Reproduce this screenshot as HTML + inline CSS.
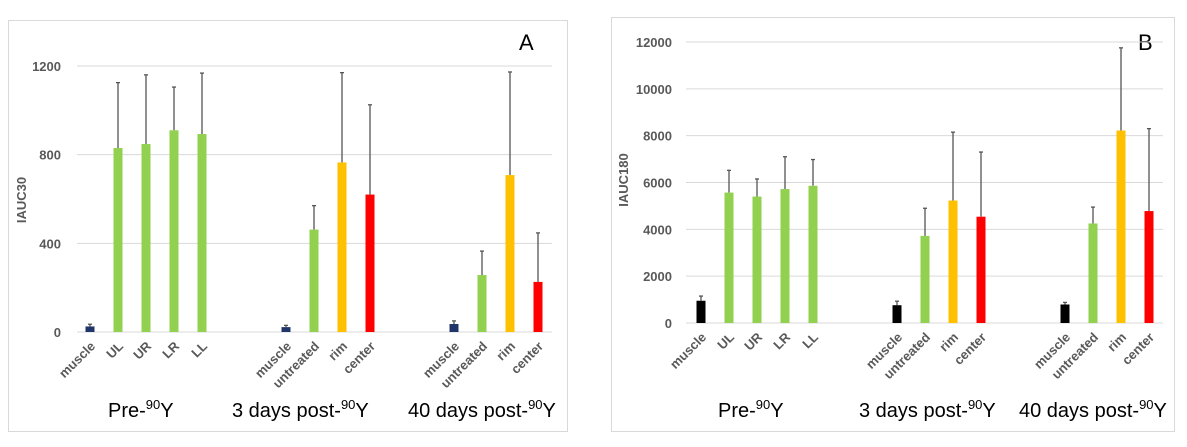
<!DOCTYPE html>
<html><head><meta charset="utf-8"><style>
body{margin:0;background:#fff;}
svg{display:block;font-family:"Liberation Sans",sans-serif;}
.tick{font-size:13px;font-weight:bold;fill:#595959;}
.cat{font-size:13px;font-weight:bold;fill:#595959;}
.grp{font-size:20px;fill:#000;}
</style></head><body>
<svg id="s" width="1187" height="447">
<rect x="0" y="0" width="1187" height="447" fill="#fff"/>
<rect x="8.5" y="20.5" width="559" height="411" fill="#fff" stroke="#d9d9d9"/>
<rect x="611.5" y="17.5" width="563" height="414" fill="#fff" stroke="#d9d9d9"/>
<text x="519" y="50" font-size="22">A</text>
<text x="1138" y="50" font-size="22">B</text>
<text class="tick" transform="translate(26,200) rotate(-90)" text-anchor="middle">IAUC30</text>
<text class="tick" transform="translate(628,180) rotate(-90)" text-anchor="middle">IAUC180</text>
<g id="ga"></g><g id="gb"></g>
<text class="grp" x="108" y="417">Pre-<tspan font-size="13" dy="-8">90</tspan><tspan dy="8">Y</tspan></text>
<text class="grp" x="232" y="417">3 days post-<tspan font-size="13" dy="-8">90</tspan><tspan dy="8">Y</tspan></text>
<text class="grp" x="408" y="417">40 days post-<tspan font-size="13" dy="-8">90</tspan><tspan dy="8">Y</tspan></text>
<text class="grp" x="718" y="417">Pre-<tspan font-size="13" dy="-8">90</tspan><tspan dy="8">Y</tspan></text>
<text class="grp" x="859" y="417">3 days post-<tspan font-size="13" dy="-8">90</tspan><tspan dy="8">Y</tspan></text>
<text class="grp" x="1019" y="417">40 days post-<tspan font-size="13" dy="-8">90</tspan><tspan dy="8">Y</tspan></text>
</svg>
<script>
const categories = ["muscle","UL","UR","LR","LL","muscle","untreated","rim","center","muscle","untreated","rim","center"];
const slots = [0,1,2,3,4,7,8,9,10,13,14,15,16];
const colorsA = ["#1f3468","#92d050","#92d050","#92d050","#92d050","#1f3468","#92d050","#ffc000","#ff0000","#1f3468","#92d050","#ffc000","#ff0000"];
const colorsB = ["#000000","#92d050","#92d050","#92d050","#92d050","#000000","#92d050","#ffc000","#ff0000","#000000","#92d050","#ffc000","#ff0000"];
const valuesA = [25,830,848,910,893,22,462,765,620,36,257,708,226];
const errTopA = [35,1125,1160,1105,1168,30,570,1170,1025,50,365,1173,447];
const ticksA = [0,400,800,1200];
const valuesB = [950,5570,5400,5720,5860,760,3720,5230,4540,790,4250,8220,4780];
const errTopB = [1150,6520,6150,7100,6980,930,4900,8150,7300,880,4950,11750,8300];
const ticksB = [0,2000,4000,6000,8000,10000,12000];

const NS="http://www.w3.org/2000/svg";
function mk(tag,attrs,parent){const e=document.createElementNS(NS,tag);for(const k in attrs)e.setAttribute(k,attrs[k]);parent.appendChild(e);return e;}
function draw(g,cfg){
  const y=v=>cfg.y0-(v/cfg.max)*(cfg.y0-cfg.yTop);
  const x=i=>cfg.x0+slots[i]*cfg.slot;
  cfg.ticks.forEach(t=>{
    const l=mk("line",{x1:cfg.gx1,x2:cfg.gx2,y1:y(t),y2:y(t),stroke:"#d9d9d9","stroke-width":1},g);
    
    
    const tx=mk("text",{x:cfg.tickX,y:y(t)+5,"text-anchor":"end",class:"tick"},g);
    tx.textContent=t;
    
    
  });
  cfg.values.forEach((v,i)=>{
    const cx=x(i),w=9;
    const e=mk("line",{x1:cx,x2:cx,y1:y(cfg.err[i]),y2:y(v),stroke:"#555","stroke-width":1.3},g);
    
    
    const c=mk("line",{x1:cx-2,x2:cx+2,y1:y(cfg.err[i]),y2:y(cfg.err[i]),stroke:"#555","stroke-width":1.3},g);
    
    
    const r=mk("rect",{x:cx-w/2,y:y(v),width:w,height:cfg.y0-y(v),fill:cfg.colors[i]},g);
    
    
    const t=mk("text",{class:"cat","text-anchor":"end",transform:`translate(${cx+6},${cfg.y0+15}) rotate(-45)`},g);
    t.textContent=categories[i];
    
    
  });
}
draw(document.getElementById("ga"),{values:valuesA,err:errTopA,ticks:ticksA,colors:colorsA,max:1200,y0:332,yTop:66,x0:90,slot:28,gx1:77,gx2:552,tickX:61});
draw(document.getElementById("gb"),{values:valuesB,err:errTopB,ticks:ticksB,colors:colorsB,max:12000,y0:323,yTop:42,x0:701,slot:28,gx1:686,gx2:1163,tickX:672});
</script>
</body></html>
